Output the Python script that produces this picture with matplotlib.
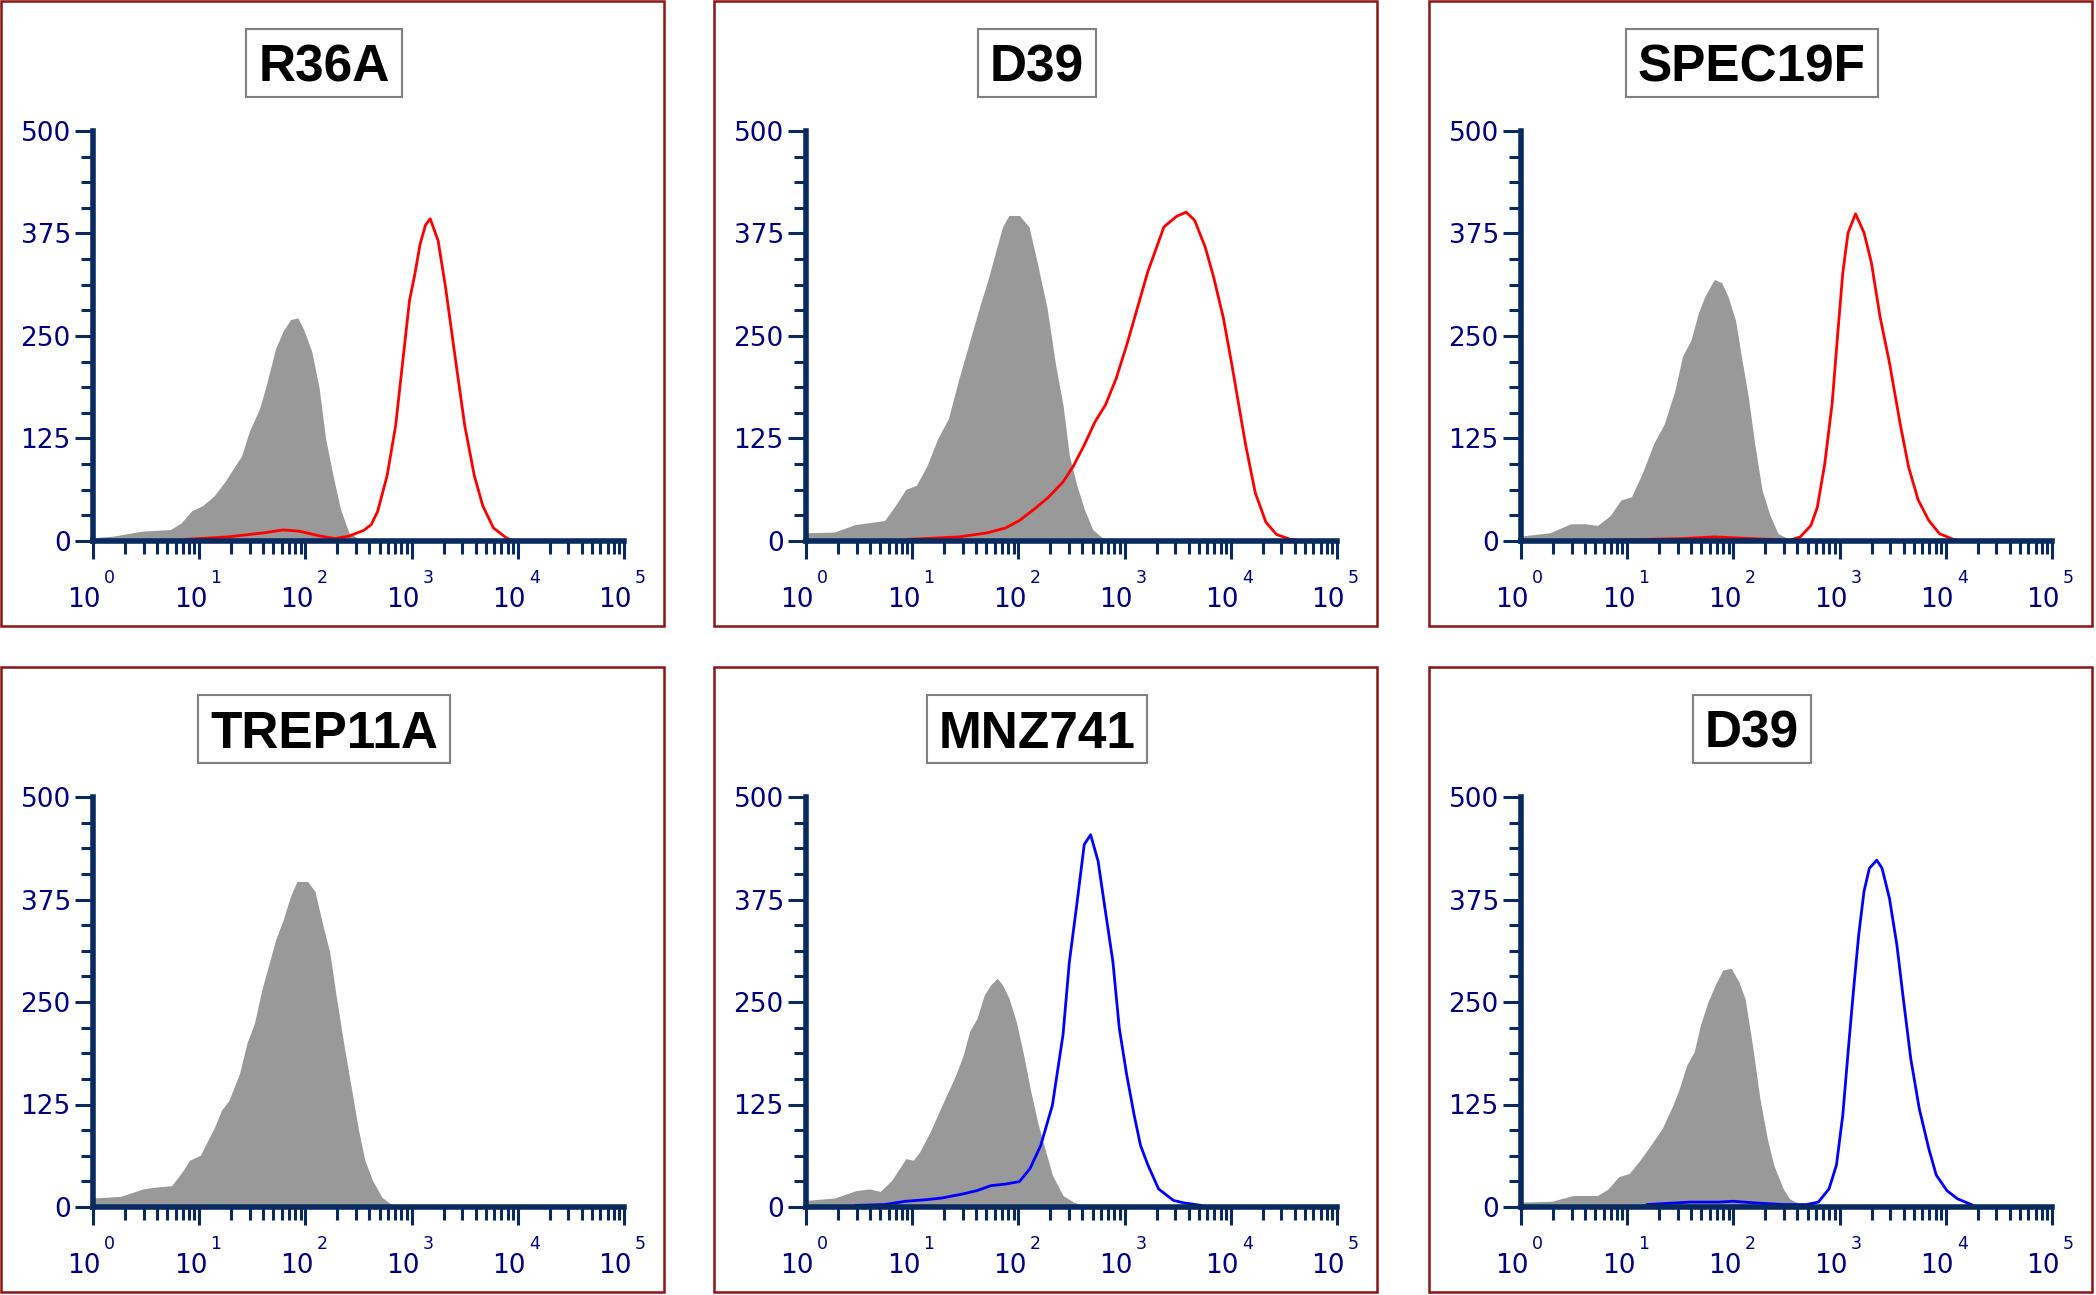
import numpy as np
import matplotlib
matplotlib.use("Agg")
from matplotlib import pyplot as plt
from matplotlib.patches import Rectangle
from matplotlib.ticker import FixedLocator, LogLocator, NullFormatter

# Flow cytometry overlays: gray = control, line = stained sample.
# x values are stored as log10(intensity), y values are cell counts.
titles = ["R36A", "D39", "SPEC19F", "TREP11A", "MNZ741", "D39"]
line_colors = ["#ff0000", "#ff0000", "#ff0000", None, "#0000ff", "#0000ff"]

r36a_gray_log = [0, .195, .46, .73, .83, .93, 1.03, 1.14, 1.24, 1.30, 1.40, 1.47, 1.57, 1.64,
                 1.72, 1.79, 1.86, 1.93, 1.99, 2.06, 2.13, 2.19, 2.26, 2.33, 2.41, 2.51, 2.55]
r36a_gray = [4, 6, 12, 14, 22, 37, 43, 55, 72, 84, 104, 133, 162, 194,
             235, 256, 270, 272, 256, 231, 186, 125, 80, 39, 10, 2, 0]
r36a_line_log = [0.87, 1.27, 1.61, 1.79, 1.94, 2.14, 2.28, 2.41, 2.55, 2.62, 2.68, 2.77, 2.85, 2.92,
                 2.98, 3.03, 3.08, 3.13, 3.175, 3.25, 3.32, 3.42, 3.50, 3.59, 3.67, 3.77, 3.89, 3.94]
r36a_line = [2, 5, 10, 13.5, 12, 6, 3, 6, 13, 20, 36, 80, 141, 223,
             293, 325, 362, 385, 393, 366, 309, 215, 141, 80, 43, 16, 4, 1]

d39_gray_log = [0, .27, .46, .74, .84, .94, 1.04, 1.14, 1.24, 1.34, 1.44, 1.54, 1.64, 1.71, 1.78,
                1.85, 1.91, 2.01, 2.10, 2.18, 2.27, 2.35, 2.42, 2.48, 2.55, 2.62, 2.70, 2.79, 2.85]
d39_gray = [10, 11, 20, 25, 43, 63, 68, 92, 125, 149, 198, 243, 288, 317, 350,
            383, 397, 397, 383, 338, 284, 215, 166, 104, 68, 39, 14, 4, 1]
d39_line_log = [0.96, 1.44, 1.71, 1.88, 2.01, 2.15, 2.28, 2.42, 2.52, 2.62, 2.72, 2.82, 2.92, 3.02,
                3.12, 3.22, 3.29, 3.37, 3.49, 3.58, 3.66, 3.76, 3.84, 3.93, 4.01, 4.08, 4.14, 4.23,
                4.33, 4.43, 4.56, 4.63]
d39_line = [2, 5, 10, 16, 25, 39, 53, 72, 92, 117, 145, 166, 198, 239,
            284, 329, 354, 383, 396, 401, 391, 358, 321, 272, 215, 162, 117, 59,
            23, 8, 2, 1]

spec19f_gray_log = [0, .27, .47, .61, .72, .84, .94, 1.04, 1.14, 1.25, 1.35, 1.45, 1.52, 1.60,
                    1.67, 1.73, 1.82, 1.89, 1.95, 2.02, 2.07, 2.14, 2.20, 2.27, 2.34, 2.42, 2.53]
spec19f_gray = [6, 10, 21, 21, 19, 31, 50, 54, 82, 119, 143, 184, 225, 245,
                278, 298, 319, 315, 298, 269, 229, 176, 119, 62, 33, 9, 2]
spec19f_line_log = [0.84, 1.52, 1.82, 2.16, 2.53, 2.63, 2.73, 2.79, 2.86, 2.93, 2.98, 3.03, 3.08,
                    3.15, 3.23, 3.30, 3.38, 3.47, 3.57, 3.65, 3.74, 3.84, 3.94, 4.07, 4.14]
spec19f_line = [1, 3, 5, 3, 1, 5, 19, 41, 94, 168, 249, 327, 376,
                399, 376, 339, 274, 217, 143, 90, 50, 25, 9, 2, 0]

trep11a_gray_log = [0, .26, .47, .57, .74, .84, .91, 1.01, 1.08, 1.14, 1.21, 1.28, 1.38, 1.45,
                    1.52, 1.59, 1.65, 1.72, 1.79, 1.86, 1.92, 2.02, 2.09, 2.16, 2.23, 2.29, 2.36,
                    2.43, 2.50, 2.56, 2.63, 2.72, 2.80, 2.87]
trep11a_gray = [11, 13, 22, 24, 26, 43, 57, 63, 81, 96, 118, 130, 163, 200,
                224, 265, 293, 326, 350, 379, 397, 397, 385, 346, 310, 257, 200,
                147, 94, 57, 33, 12, 4, 1]

mnz741_gray_log = [0, .27, .47, .60, .70, .81, .94, 1.01, 1.07, 1.17, 1.28, 1.34, 1.41, 1.48,
                   1.54, 1.61, 1.68, 1.74, 1.80, 1.85, 1.91, 1.98, 2.05, 2.11, 2.18, 2.25, 2.32,
                   2.42, 2.52, 2.58]
mnz741_gray = [8, 11, 20, 22, 19, 33, 59, 57, 67, 92, 124, 141, 161, 185,
               214, 230, 259, 271, 279, 271, 255, 226, 185, 145, 104, 71, 39,
               14, 6, 3]
mnz741_line_log = [0.47, 0.74, 0.94, 1.14, 1.28, 1.48, 1.61, 1.74, 1.88, 2.01, 2.11, 2.21, 2.32,
                   2.42, 2.48, 2.55, 2.62, 2.68, 2.75, 2.82, 2.89, 2.95, 3.02, 3.09, 3.15, 3.22,
                   3.32, 3.46, 3.56, 3.72]
mnz741_line = [2, 3, 7, 9, 11, 16, 20, 26, 28, 31, 47, 75, 124,
               210, 299, 369, 442, 454, 422, 360, 299, 218, 161, 112, 75, 51,
               22, 8, 5, 2]

d39b_gray_log = [0, .29, .49, .72, .82, .92, 1.02, 1.12, 1.22, 1.33, 1.43, 1.49, 1.56, 1.63,
                 1.69, 1.76, 1.83, 1.90, 1.98, 2.05, 2.11, 2.18, 2.25, 2.32, 2.38, 2.47, 2.53, 2.63]
d39b_gray = [6, 7, 14, 14, 22, 37, 41, 57, 75, 96, 124, 144, 173, 189,
             222, 250, 271, 289, 291, 275, 254, 197, 132, 83, 51, 22, 10, 3]
d39b_line_log = [1.19, 1.59, 1.86, 2.0, 2.20, 2.47, 2.69, 2.80, 2.90, 2.97, 3.03, 3.08, 3.13, 3.18,
                 3.23, 3.28, 3.35, 3.40, 3.47, 3.54, 3.60, 3.67, 3.75, 3.84, 3.91, 4.01, 4.11, 4.24]
d39b_line = [3, 6, 6, 7, 5, 3, 3, 6, 22, 51, 112, 189, 263, 332,
             385, 413, 423, 413, 376, 319, 254, 181, 120, 71, 39, 20, 10, 3]

gray_logs = [r36a_gray_log, d39_gray_log, spec19f_gray_log, trep11a_gray_log, mnz741_gray_log, d39b_gray_log]
grays = [r36a_gray, d39_gray, spec19f_gray, trep11a_gray, mnz741_gray, d39b_gray]
line_logs = [r36a_line_log, d39_line_log, spec19f_line_log, None, mnz741_line_log, d39b_line_log]
lines = [r36a_line, d39_line, spec19f_line, None, mnz741_line, d39b_line]

y_major = [0, 125, 250, 375, 500]
y_minor = np.arange(0, 500.1, 31.25)
decades = range(6)

AXIS = "#082a5e"
NAVY = "#000080"
BORDER = "#8c1414"
FILL = "#999999"

W, H = 2096, 1295
fig = plt.figure(figsize=(W / 100, H / 100), dpi=100)

panel_left = [1, 714, 1429]
panel_top = [1, 667]
panel_w, panel_h = 663, 625

title_texts = []
for i in range(6):
    L = panel_left[i % 3]
    T = panel_top[i // 3]

    # dark red frame around each panel
    fig.add_artist(Rectangle((L / W, 1 - (T + panel_h) / H), panel_w / W, panel_h / H,
                             fill=False, ec=BORDER, lw=1.8, transform=fig.transFigure))

    ax = fig.add_axes([(L + 92) / W, 1 - (T + 540) / H, 531 / W, 410 / H])
    ax.set_xscale("log")
    xs = 10 ** np.array(gray_logs[i])
    ax.fill_between(xs, grays[i], 0, color=FILL, lw=0, zorder=1)
    if lines[i] is not None:
        ax.plot(10 ** np.array(line_logs[i]), lines[i], color=line_colors[i], lw=2.0,
                zorder=2, solid_joinstyle="round")

    ax.set_xlim(1, 1e5)
    ax.set_ylim(0, 500)
    ax.patch.set_visible(False)
    for s in ["top", "right"]:
        ax.spines[s].set_visible(False)
    for s in ["left", "bottom"]:
        ax.spines[s].set_color(AXIS)
        ax.spines[s].set_linewidth(4)
        ax.spines[s].set_capstyle("projecting")

    ax.yaxis.set_major_locator(FixedLocator(y_major))
    ax.yaxis.set_minor_locator(FixedLocator(y_minor))
    ax.xaxis.set_major_locator(LogLocator(base=10))
    ax.xaxis.set_minor_locator(LogLocator(base=10, subs=range(2, 10)))
    ax.xaxis.set_minor_formatter(NullFormatter())
    ax.tick_params(which="major", length=13, width=2.2, color=AXIS, direction="out")
    ax.tick_params(which="minor", length=9, width=2.2, color=AXIS, direction="out")
    ax.tick_params(axis="y", labelsize=19, labelcolor=NAVY, pad=3)
    ax.tick_params(axis="x", labelbottom=False)
    for lab in ax.get_yticklabels():
        lab.set_fontfamily("DejaVu Sans")

    # "10" with a raised exponent under each decade tick
    for k in decades:
        ax.annotate("10", xy=(10 ** k, 0), xycoords=("data", "axes fraction"),
                    xytext=(8, -66), textcoords="offset pixels", ha="right", va="baseline",
                    fontsize=19, color=NAVY, annotation_clip=False)
        ax.annotate(str(k), xy=(10 ** k, 0), xycoords=("data", "axes fraction"),
                    xytext=(11, -42), textcoords="offset pixels", ha="left", va="baseline",
                    fontsize=12.5, color=NAVY, annotation_clip=False)

    t = fig.text((L + 323) / W, 1 - (T + 81) / H, titles[i], ha="center", va="baseline",
                 fontsize=37, fontweight="bold", family="Liberation Sans", color="black")
    title_texts.append((t, T))

# boxes around the titles, sized from the rendered text
fig.canvas.draw()
renderer = fig.canvas.get_renderer()
cap = 0.716 * 37 * 100 / 72
for t, T in title_texts:
    bb = t.get_window_extent(renderer)
    base = H - (T + 81)
    x0, x1 = bb.x0 - 12, bb.x1 + 12
    y0, y1 = base - 15, base + cap + 16
    fig.add_artist(Rectangle((x0 / W, y0 / H), (x1 - x0) / W, (y1 - y0) / H,
                             fill=False, ec="#808080", lw=1.5, transform=fig.transFigure))

fig.savefig("out.png", dpi=100)
